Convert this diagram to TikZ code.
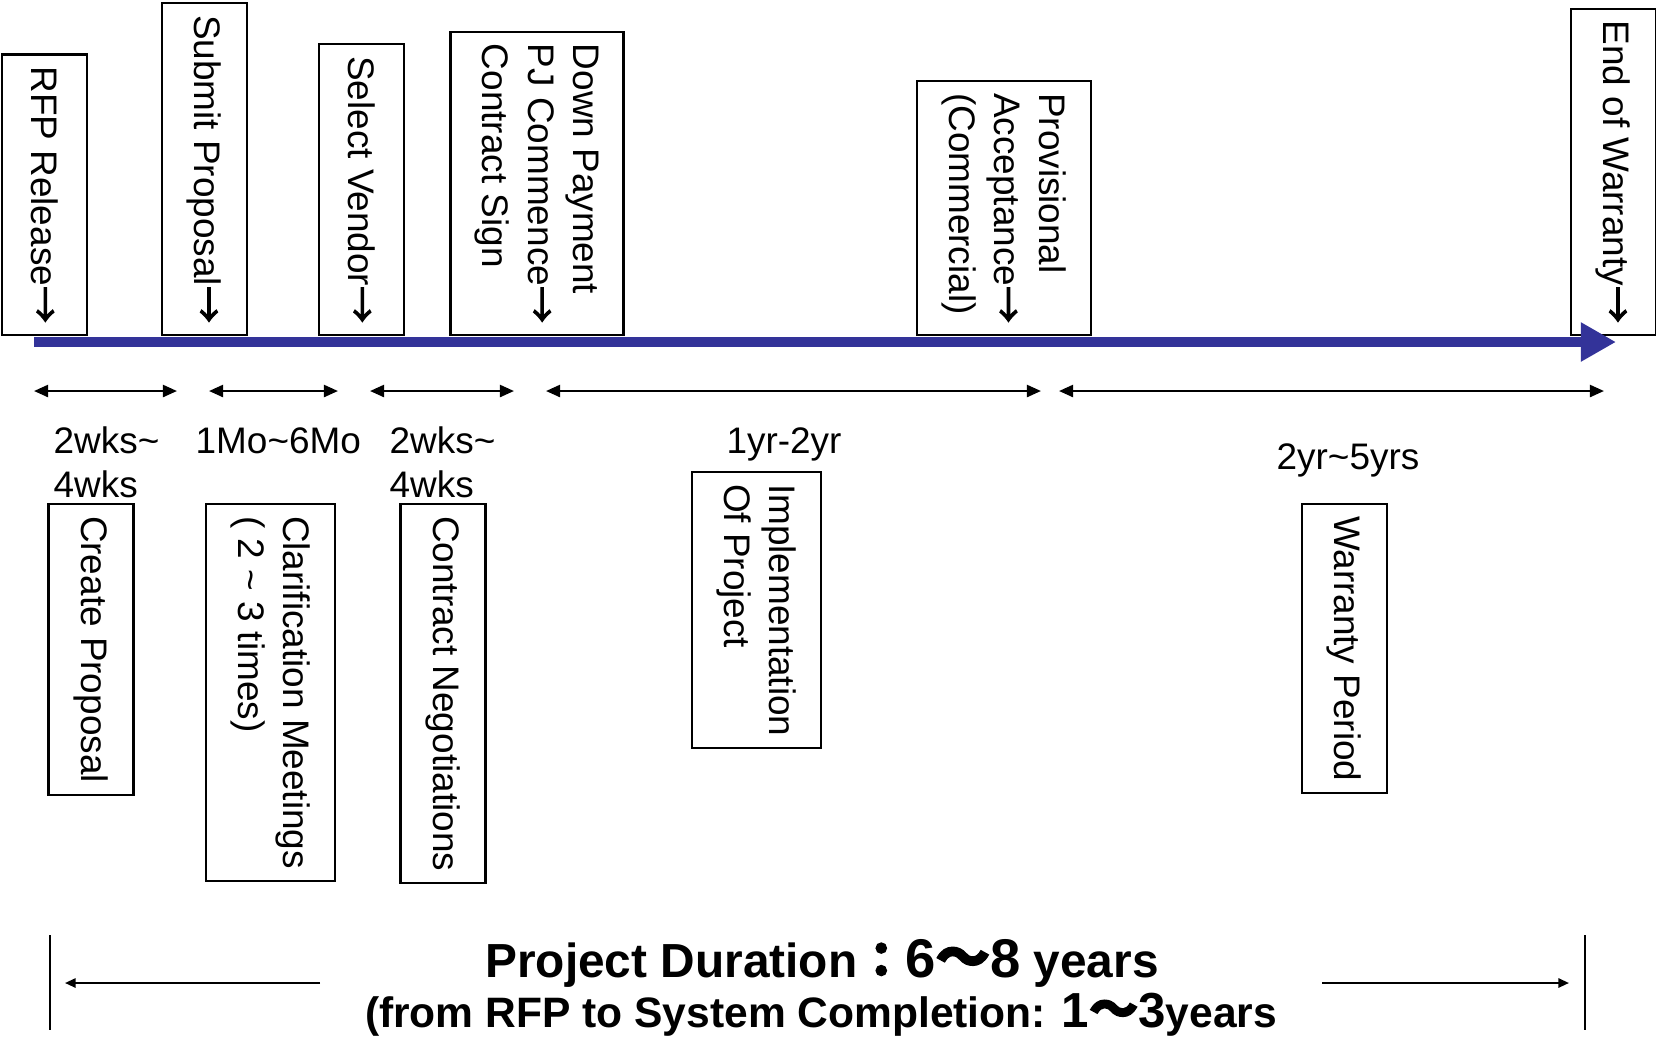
\documentclass[tikz,border=0pt]{standalone}
\usepackage{fontspec}
\setmainfont{Liberation Sans}
\newfontfamily\cjk{Noto Sans CJK JP}
\newfontfamily\cjkb[FakeBold=3]{Noto Sans CJK JP}
\usetikzlibrary{arrows.meta}
\definecolor{tlblue}{RGB}{51,51,153}
\newcommand\tld{\textasciitilde}
\newcommand\dn{{\cjkb →}}

\begin{document}
\begin{tikzpicture}[x=0.01cm, y=-0.01cm,
    every node/.style={font=\fontsize{10.5}{12.9}\selectfont},
    box/.style={draw, line width=0.6pt, rotate=-90, align=left, inner xsep=3.4pt, inner ysep=7pt, minimum height=0.85cm},
    lbl/.style={align=left, anchor=base west, inner sep=0pt, font=\fontsize{10.5}{12.5}\selectfont},
    span/.style={line width=0.7pt, {Triangle[length=4pt,width=3.4pt]}-{Triangle[length=4pt,width=3.4pt]}},
    timeline/.style={tlblue, line width=3.1pt, -{Triangle[length=10pt,width=10.5pt]}},
    total/.style={line width=0.6pt, -{Triangle[length=3pt,width=2.6pt]}},
    head/.style={font=\bfseries\fontsize{13.6}{16}\selectfont, inner sep=0pt, anchor=base}]
    \useasboundingbox (0,0) rectangle (1656,1038);

    \node[box, anchor=east] (rfp) at (44.5,336) {RFP Release\dn};
    \node[box, anchor=east] (submit) at (204.5,336) {Submit Proposal\dn};
    \node[box, anchor=east] (select) at (361.5,336) {Select Vendor\dn};
    \node[box, anchor=east] (sign) at (537,336) {Down Payment\\PJ Commence\dn\\Contract Sign};
    \node[box, anchor=east] (accept) at (1004,336) {Provisional\\Acceptance\dn\\(Commercial)};
    \node[box, anchor=east] (endw) at (1613.5,336) {End of Warranty\dn};

    \coordinate (t0) at (34,342);
    \coordinate (t1) at (1616,342);
    \draw[timeline] (t0) -- (t1);

    \foreach \i/\a/\b in {1/34/177, 2/209/338, 3/370/514, 4/546/1041, 5/1059/1604} {
        \coordinate (l\i) at (\a,391);
        \coordinate (r\i) at (\b,391);
        \draw[span] (l\i) -- (r\i);
    }

    \node[lbl] (d1) at (53,497) {2wks\tld\\4wks};
    \node[lbl] (d2) at (195,453) {1Mo\tld 6Mo};
    \node[lbl] (d3) at (389,497) {2wks\tld\\4wks};
    \node[lbl, anchor=base] (d4) at (784,453) {1yr-2yr};
    \node[lbl, anchor=base] (d5) at (1348,469) {2yr\tld 5yrs};

    \node[box, anchor=west] (create) at (91,503) {Create Proposal};
    \node[box, anchor=west] (clarify) at (270.5,503) {Clarification Meetings\\( 2 \tld{} 3 times)};
    \node[box, anchor=west] (negot) at (443,503) {Contract Negotiations};
    \node[box, anchor=west] (impl) at (756.5,471) {Implementation\\Of Project};
    \node[box, anchor=west] (warr) at (1344.5,503) {Warranty Period};

    \coordinate (vl0) at (50,935);
    \coordinate (vl1) at (50,1030);
    \coordinate (vr0) at (1585,935);
    \coordinate (vr1) at (1585,1030);
    \draw[line width=0.6pt] (vl0) -- (vl1);
    \draw[line width=0.6pt] (vr0) -- (vr1);

    \coordinate (al0) at (320,983);
    \coordinate (al1) at (65,983);
    \coordinate (ar0) at (1322,983);
    \coordinate (ar1) at (1569,983);
    \draw[total] (al0) -- (al1);
    \draw[total] (ar0) -- (ar1);

    \node[head] (proj) at (822,977) {Project Duration{\cjkb ：}{\fontsize{15.5}{16}\selectfont 6{\cjkb ～}8} years};
    \node[head, font=\bfseries\fontsize{12.1}{14}\selectfont] (rfpsys) at (821,1027) {(from RFP to System Completion: {\fontsize{14}{16}\selectfont 1{\cjkb ～}3}years};
\end{tikzpicture}
\end{document}
